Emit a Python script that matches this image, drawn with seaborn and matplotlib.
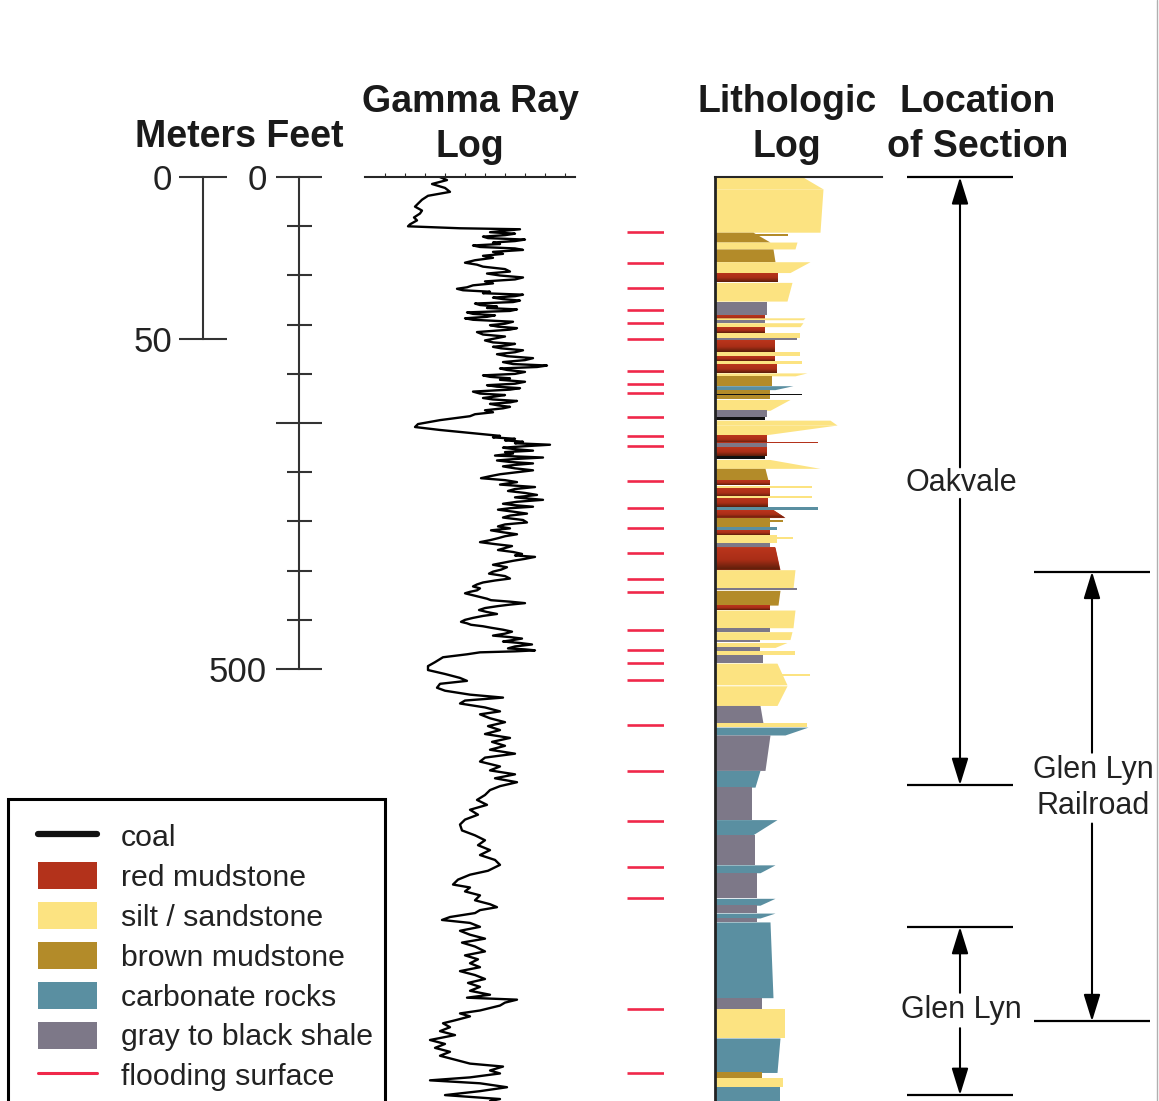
import numpy as np
import matplotlib
matplotlib.use('Agg')
import matplotlib.pyplot as plt
from matplotlib.patches import Patch, Rectangle
from matplotlib.lines import Line2D
from matplotlib.colors import LinearSegmentedColormap
import seaborn as sns

sns.set_style('white')
plt.rcParams['font.family'] = ['Liberation Sans', 'DejaVu Sans']

W, H = 1159, 1101

# depth range (feet) covered from top to bottom of the page
depth_top, depth_bottom = -180, 939
FT_TO_M = 0.3048

# ------------------------------------------------------------ #
# data
# ------------------------------------------------------------ #

# gamma ray log (depth in feet, reading in API units)
gr_depth = [0, 3, 7, 11, 15, 19, 23, 27, 30, 34, 37, 41, 44, 48, 50, 52, 53,
            56, 57.5, 59, 60.5, 62, 63.5, 65, 66.5, 68, 69.5,
            71, 72.5, 74, 76, 78, 80, 82, 84.5, 87, 89,
            91, 93.5, 96, 98, 100, 102, 104, 106, 108, 110,
            112, 113.5, 115, 116.5, 118, 119.5, 121, 122.5, 124, 125.5,
            127, 128.5, 130, 131.5, 133, 134.5, 136, 137.5, 139, 140.5,
            142, 143.5, 145, 147, 149, 150.5, 152, 153.5, 155, 157.5,
            160, 162, 164, 166, 168, 169.5, 171, 172.5, 174, 176,
            178, 180, 182, 184, 186, 188, 190, 191.5, 193, 194.5,
            196, 198, 200, 201.5, 203, 204.5, 206, 208, 210, 211.5,
            213, 214.5, 216, 218, 220, 221.5, 223, 224.5, 226, 227.5,
            229, 230.5, 232, 233.5, 235, 237, 239, 241, 243, 247,
            251, 254, 257, 260, 263, 264.5, 266, 267.5, 269, 270.5,
            272, 273.5, 275, 276.5, 278, 279.5, 281, 283, 285, 286.5,
            288, 289.5, 291, 292.5, 294, 296, 298,
            302, 304, 306, 308, 310, 312.5, 315, 317, 319, 321,
            323, 325.5, 328, 330, 332, 333.5, 335, 336.5, 338, 340,
            342, 344, 346, 348.5, 351, 353, 355, 357, 359, 361,
            363, 365, 367, 369, 371, 373, 375, 377, 379, 381,
            383, 384.5, 386, 388, 390, 392, 394, 396.5, 399, 401,
            403, 405.5, 408, 410, 412, 414, 416, 418, 420, 421.5,
            423, 425, 427, 428.5, 430, 431.5, 433, 434.5, 436, 438,
            440, 442, 444, 446, 448, 450, 452, 453.5, 455, 456.5,
            458, 460, 462, 464, 466, 467.5, 469, 470.5, 472, 473.5,
            475, 477, 479, 480, 481, 482, 483, 485,
            488, 493, 497, 501, 505, 509, 512, 515, 519, 522,
            526, 529, 532, 535, 539, 543, 546, 550, 554, 558,
            562, 566, 570, 574, 578, 582, 586, 590, 594, 599,
            603, 607, 611,
            615, 619, 623, 628, 633, 638, 643, 648, 653, 658,
            664, 669, 674, 679, 684, 689, 694, 699, 705, 709,
            714, 719, 722, 726, 730, 735, 739, 742, 745, 748,
            752, 755, 758, 762, 766, 770, 774, 778, 782, 787,
            791, 795, 799, 803, 807, 811, 815, 819, 823, 827,
            831, 834, 836, 839, 842, 847, 850, 853, 857, 860,
            864, 868, 872, 877, 881, 885, 889, 893, 897, 901,
            904, 908, 911, 915, 918, 921, 925, 929, 933, 937, 939]
gr_api = [75, 82, 67, 80, 85, 63, 57, 53, 50, 57, 55, 49, 52, 45, 43, 95, 155,
          125, 150, 140, 118, 123, 160, 150, 128, 135, 108,
          115, 150, 158, 128, 138, 118, 128, 110, 100, 112,
          118, 140, 145, 122, 135, 158, 150, 120, 128, 108,
          102, 92, 98, 125, 118, 158, 150, 128, 138, 155,
          148, 110, 115, 132, 122, 152, 145, 102, 108, 130,
          122, 100, 108, 148, 140, 125, 133, 152, 145, 112,
          118, 140, 130, 120, 128, 150, 142, 128, 136, 158,
          150, 132, 142, 168, 160, 138, 148, 182, 172, 135,
          142, 160, 150, 118, 125, 145, 135, 160, 150, 122,
          132, 155, 145, 108, 115, 140, 130, 118, 128, 152,
          145, 125, 133, 145, 138, 120, 128, 110, 105, 75,
          53, 50, 75, 105, 135, 128, 150, 140, 158, 150,
          185, 160, 138, 150, 168, 140, 148, 130, 178, 150,
          132, 145, 168, 150, 138, 150, 168,
          135, 125, 116, 140, 152, 135, 170, 150, 143, 160,
          172, 150, 178, 152, 138, 150, 168, 145, 133, 148,
          162, 145, 138, 158, 162, 140, 133, 145, 126, 138,
          152, 140, 133, 125, 115, 130, 147, 140, 133, 148,
          157, 150, 170, 160, 148, 138, 128, 142, 136, 128,
          124, 140, 145, 130, 118, 112, 108, 115, 112, 105,
          100, 108, 116, 122, 126, 145, 160, 145, 133, 120,
          114, 122, 132, 118, 108, 100, 96, 102, 106, 118,
          126, 138, 147, 140, 128, 145, 157, 148, 138, 155,
          167, 150, 143, 160, 170, 150, 115, 102,
          78, 70, 63, 63, 80, 95, 102, 75, 72, 80,
          105, 138, 100, 95, 120, 135, 115, 125, 140, 123,
          135, 120, 145, 127, 140, 125, 150, 120, 115, 135,
          125, 150, 130,
          152, 135, 125, 120, 112, 122, 105, 113, 100, 95,
          97, 110, 120, 113, 125, 115, 130, 135, 123, 105,
          93, 88, 105, 100, 115, 110, 125, 132, 115, 110,
          85, 77, 105, 115, 95, 105, 120, 97, 110, 120,
          100, 113, 105, 115, 95, 110, 120, 103, 115, 105,
          125, 102, 152, 140, 135, 115, 95, 105, 90, 78,
          85, 75, 90, 65, 80, 70, 85, 75, 90, 105,
          138, 125, 135, 105, 65, 115, 142, 115, 80, 135, 125]

# flooding surfaces (feet)
flood_depth = [56, 87, 113, 135, 148, 165, 197, 210, 219, 244, 263, 273,
               309, 336, 357, 382, 408, 422, 460, 481, 494, 511,
               557, 604, 654, 701, 733, 846, 911]

# lithologic log: bed top / base (feet), lithology, profile width at top / base
bed_top = [0, 12, 56, 58, 66, 73, 86, 97, 107, 127,
           140, 143, 145, 148, 152, 158, 164, 166, 178, 182,
           187, 190, 199, 202, 212, 216, 220, 226, 237, 244,
           247, 252, 262, 269, 270, 274, 283, 287, 296, 308,
           313.5, 316, 324.5, 326, 335, 338, 346, 349, 356, 359,
           364, 366, 372, 376, 399, 418, 420, 435, 440, 458,
           462, 470, 473, 478, 482, 486, 494, 505, 517, 537,
           555, 559, 567, 603, 620, 653, 669, 699, 707, 733,
           740, 748, 753, 757, 834, 845, 875, 910, 916, 925]
bed_base = [12, 56, 66, 60, 73, 86, 97, 107, 126, 140,
            145, 145, 148, 152, 158, 164, 166, 178, 182, 187,
            190, 199, 202, 212, 216, 226, 221.5, 237, 244, 247,
            252, 262, 270, 270.5, 274, 283, 287, 296, 308, 313,
            315.5, 325, 326, 335, 338, 346, 356, 350.5, 359, 364,
            372, 367.5, 376, 399, 418, 420, 435, 440, 458, 462,
            470, 473, 478, 482, 486, 494, 516, 507, 537, 555,
            559, 567, 603, 620, 653, 669, 699, 707, 733, 740,
            748, 753, 757, 834, 845, 875, 910, 916, 925, 939]
bed_lith = ['sand', 'sand', 'brown', 'brown', 'sand', 'brown', 'sand', 'red', 'sand', 'gray',
            'red', 'sand', 'gray', 'sand', 'red', 'sand', 'gray', 'red', 'sand', 'red',
            'sand', 'red', 'sand', 'brown', 'carb', 'brown', 'coal', 'sand', 'gray', 'coal',
            'sand', 'sand', 'red', 'red', 'gray', 'red', 'coal', 'sand', 'brown', 'red',
            'sand', 'red', 'sand', 'red', 'carb', 'red', 'brown', 'brown', 'carb', 'red',
            'sand', 'sand', 'gray', 'red', 'sand', 'gray', 'brown', 'red', 'sand', 'gray',
            'sand', 'gray', 'sand', 'gray', 'sand', 'gray', 'sand', 'sand', 'sand', 'gray',
            'sand', 'carb', 'gray', 'carb', 'gray', 'carb', 'gray', 'carb', 'gray', 'carb',
            'gray', 'carb', 'gray', 'carb', 'gray', 'sand', 'carb', 'brown', 'sand', 'carb']
bed_w_top = [88, 108, 38, 73, 82, 58, 95, 63, 77, 52,
             50, 90, 50, 88, 50, 85, 82, 60, 85, 60,
             87, 62, 92, 57, 78, 55, 87, 75, 52, 50,
             115, 122, 52, 103, 52, 52, 50, 55, 50, 55,
             97, 55, 97, 53, 103, 58, 55, 68, 62, 55,
             62, 78, 55, 60, 80, 82, 65, 55, 80, 55,
             77, 45, 72, 45, 80, 48, 62, 95, 72, 45,
             92, 93, 55, 45, 37, 62, 40, 60, 42, 60,
             42, 60, 42, 55, 47, 70, 65, 47, 68, 65]
bed_w_base = [108, 105, 55, 73, 80, 60, 75, 63, 72, 52,
              50, 88, 50, 85, 50, 85, 82, 60, 85, 60,
              87, 62, 80, 57, 60, 55, 87, 55, 52, 50,
              122, 50, 52, 103, 52, 52, 50, 105, 53, 55,
              97, 55, 97, 53, 103, 70, 55, 68, 62, 55,
              62, 78, 55, 65, 78, 82, 63, 55, 78, 55,
              75, 45, 60, 45, 80, 48, 72, 95, 62, 48,
              92, 70, 50, 40, 37, 37, 40, 45, 42, 45,
              42, 45, 42, 58, 47, 70, 62, 47, 68, 65]

lith_keys = ['coal', 'red', 'sand', 'brown', 'carb', 'gray']
lith_labels = ['coal', 'red mudstone', 'silt / sandstone', 'brown mudstone',
               'carbonate rocks', 'gray to black shale']
lith_colors = ['#111111', '#b3321b', '#fce381', '#b38b29', '#5a8fa1', '#7d7888']
flood_color = '#f0284a'

# measured sections
section_names = ['Oakvale', 'Glen Lyn\nRailroad', 'Glen Lyn']
section_top = [0, 401, 762]
section_base = [618, 858, 933]
section_label_depth = [311, 621, 847]

# ------------------------------------------------------------ #
# figure
# ------------------------------------------------------------ #

fig = plt.figure(figsize=(W / 100, H / 100), dpi=100)


def track(x0, x1):
    ax = fig.add_axes([x0 / W, 0, (x1 - x0) / W, 1])
    ax.set_ylim(depth_bottom, depth_top)
    ax.patch.set_visible(False)
    for s in ax.spines.values():
        s.set_visible(False)
    ax.set_xticks([])
    ax.set_yticks([])
    return ax


scale_col = '#333333'

# meters scale
ax_m = track(203, 204)
ax_m.set_ylim(depth_bottom * FT_TO_M, depth_top * FT_TO_M)
ax_m.spines['left'].set_visible(True)
ax_m.spines['left'].set_bounds(0, 50)
ax_m.spines['left'].set_linewidth(1.5)
ax_m.spines['left'].set_color(scale_col)
ax_m.set_yticks([0, 50])
ax_m.tick_params(axis='y', left=True, direction='inout', length=35, width=1.5,
                 color=scale_col, labelsize=25, labelcolor='#222222', pad=4.5)

# feet scale
ax_ft = track(299, 300)
ax_ft.spines['left'].set_visible(True)
ax_ft.spines['left'].set_bounds(0, 500)
ax_ft.spines['left'].set_linewidth(1.5)
ax_ft.spines['left'].set_color(scale_col)
ax_ft.set_yticks([0, 250, 500])
ax_ft.set_yticklabels(['0', '', '500'])
ax_ft.set_yticks(np.arange(50, 500, 50), minor=True)
ax_ft.tick_params(axis='y', which='major', left=True, direction='inout', length=33,
                  width=1.5, color=scale_col, labelsize=25, labelcolor='#222222', pad=6.5)
ax_ft.tick_params(axis='y', which='minor', left=True, direction='inout', length=18,
                  width=1.5, color=scale_col)

# gamma ray log
ax_gr = track(365, 575)
sns.lineplot(x=gr_api, y=gr_depth, orient='y', sort=False, errorbar=None,
             color='black', linewidth=1.7, ax=ax_gr)
ax_gr.set_xlim(0, 210)
ax_gr.set_ylim(depth_bottom, depth_top)
ax_gr.set_xlabel('')
ax_gr.set_ylabel('')
ax_gr.spines['top'].set_visible(True)
ax_gr.spines['top'].set_position(('data', 0))
ax_gr.spines['top'].set_linewidth(1.5)
ax_gr.xaxis.tick_top()
ax_gr.set_xticks(np.arange(20, 210, 20))
ax_gr.tick_params(axis='x', top=True, direction='out', length=3, width=0.8,
                  labeltop=False, labelbottom=False)

# flooding surfaces
ax_fl = track(627, 664)
ax_fl.set_xlim(0, 1)
ax_fl.hlines(flood_depth, 0, 1, color=flood_color, linewidth=1.9)

# lithologic log
ax_li = track(715, 882)
color_of = dict(zip(lith_keys, lith_colors))
red_cmap = LinearSegmentedColormap.from_list(
    'red_mud', [(0, '#bb351c'), (0.55, '#aa2e17'), (1, '#5a1e0a')])
grad = np.linspace(0, 1, 64).reshape(-1, 1)
for top, base, lith, wt, wb in zip(bed_top, bed_base, bed_lith, bed_w_top, bed_w_base):
    poly = ax_li.fill_betweenx([top, base], 0, [wt, wb], color=color_of[lith],
                               linewidth=0, zorder=1)
    if lith == 'red' and base - top > 3:
        im = ax_li.imshow(grad, cmap=red_cmap, aspect='auto', zorder=1,
                          extent=[0, max(wt, wb), base, top])
        im.set_clip_path(poly.get_paths()[0], transform=ax_li.transData)
ax_li.set_xlim(0, 167)
ax_li.set_ylim(depth_bottom, depth_top)
ax_li.spines['left'].set_visible(True)
ax_li.spines['left'].set_bounds(0, depth_bottom)
ax_li.spines['left'].set_linewidth(2)
ax_li.spines['left'].set_color('#222222')
ax_li.spines['left'].set_zorder(3)
ax_li.spines['top'].set_visible(True)
ax_li.spines['top'].set_position(('data', 0))
ax_li.spines['top'].set_linewidth(1.5)

# location of section
ax_loc = track(895, 1159)
ax_loc.set_xlim(0, 264)
sec_x = [65, 197, 65]
sec_half = [53, 58, 53]
sec_gap = [16, 36, 18]
arrow = dict(arrowstyle='-|>,head_length=0.55,head_width=0.17', mutation_scale=30,
             color='black', linewidth=1.5, shrinkA=0, shrinkB=0)
for name, top, base, lab, x, hw, gap in zip(section_names, section_top, section_base,
                                            section_label_depth, sec_x, sec_half, sec_gap):
    ax_loc.hlines([top, base], x - hw, x + hw, color='black', linewidth=1.6)
    ax_loc.annotate('', xy=(x, top), xytext=(x, lab - gap), arrowprops=arrow)
    ax_loc.annotate('', xy=(x, base), xytext=(x, lab + gap), arrowprops=arrow)
    ax_loc.text(x + 1, lab, name, ha='center', va='center', fontsize=22,
                color='#222222', linespacing=1.25)

# page edge
fig.add_artist(Line2D([1156.5 / W] * 2, [0, 1], color='#b0b0b0', linewidth=1))

# column headers
headers = [('Gamma Ray', 470, 112), ('Log', 470, 157), ('Meters Feet', 239, 147),
           ('Lithologic', 787, 112), ('Log', 787, 157),
           ('Location', 978, 112), ('of Section', 978, 157)]
for txt, x, y in headers:
    fig.text(x / W, 1 - y / H, txt, ha='center', va='baseline', fontsize=27,
             fontweight='bold', color='#1a1a1a')

# legend (frame drawn separately, it runs off the bottom of the page)
handles = [Line2D([], [], color=lith_colors[0], linewidth=4.5)]
handles += [Patch(facecolor=c, edgecolor='none') for c in lith_colors[1:]]
handles += [Line2D([], [], color=flood_color, linewidth=2.2)]
labels = lith_labels + ['flooding surface']
leg = fig.legend(handles, labels, loc='upper left', bbox_to_anchor=(38 / W, 1 - 822 / H),
                 frameon=False, fontsize=21.8, handlelength=1.95, handleheight=1.0,
                 handletextpad=0.78, labelspacing=0.33, borderpad=0, borderaxespad=0)
for t in leg.get_texts():
    t.set_color('#222222')
fig.add_artist(Rectangle((8 / W, -0.02), 377 / W, (1101 - 799) / H + 0.02,
                         transform=fig.transFigure, fill=False, edgecolor='black',
                         linewidth=2.2))

fig.savefig('out.png', dpi=100)
